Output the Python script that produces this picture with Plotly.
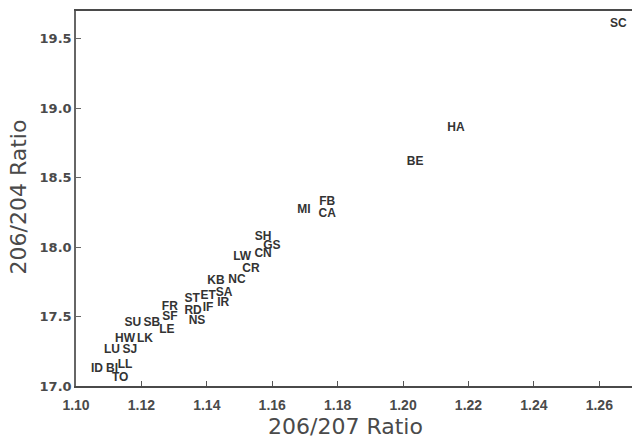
import plotly.graph_objects as go

labels = ["ID", "BI", "LL", "TO", "LU", "SJ", "HW", "LK", "SU", "SB", "LE", "SF", "FR",
          "ST", "RD", "NS", "IF", "ET", "IR", "SA", "KB", "NC", "CR", "LW", "CN", "SH",
          "GS", "MI", "FB", "CA", "BE", "HA", "SC"]
ratio_206_207 = [1.1064, 1.1110, 1.1150, 1.1135, 1.1110, 1.1165, 1.1150, 1.1211, 1.1174,
                 1.1232, 1.1278, 1.1287, 1.1287, 1.1355, 1.1358, 1.1370, 1.1404, 1.1404,
                 1.1450, 1.1453, 1.1428, 1.1492, 1.1535, 1.1508, 1.1572, 1.1572, 1.1599,
                 1.1697, 1.1768, 1.1768, 1.2037, 1.2162, 1.2658]
ratio_206_204 = [17.126, 17.126, 17.154, 17.061, 17.262, 17.262, 17.341, 17.341, 17.456,
                 17.456, 17.405, 17.499, 17.571, 17.628, 17.542, 17.470, 17.563, 17.649,
                 17.599, 17.671, 17.757, 17.764, 17.843, 17.929, 17.950, 18.072, 18.008,
                 18.266, 18.323, 18.237, 18.610, 18.861, 19.607]
x_ticks = [1.10, 1.12, 1.14, 1.16, 1.18, 1.20, 1.22, 1.24, 1.26]
y_ticks = [17.0, 17.5, 18.0, 18.5, 19.0, 19.5]
x_title = "206/207 Ratio"
y_title = "206/204 Ratio"

fig = go.Figure()
fig.add_trace(go.Scatter(
    x=ratio_206_207, y=ratio_206_204, text=labels, mode="text",
    textposition="middle center",
    textfont=dict(family="Liberation Sans", size=12, color="#333333", weight="bold"),
    hoverinfo="skip", showlegend=False, cliponaxis=False,
))

title_font = dict(family="DejaVu Sans", size=22, color="#4a4a4a")

fig.add_annotation(text=x_title, xref="paper", yref="paper", x=0.4856, y=-0.109,
                   xanchor="center", yanchor="middle", showarrow=False, font=title_font)
fig.add_annotation(text=y_title, xref="paper", yref="paper", x=-0.1052, y=0.504,
                   xanchor="center", yanchor="middle", showarrow=False, textangle=-90,
                   font=title_font)

fig.update_layout(
    width=632, height=442,
    margin=dict(l=76, r=0, t=11, b=56),
    paper_bgcolor="white", plot_bgcolor="white",
    hovermode=False,
    xaxis=dict(
        range=[1.10, 1.27], tickvals=x_ticks, ticktext=[f"{v:.2f}" for v in x_ticks],
        showgrid=False, zeroline=False, showline=True, linecolor="#4a4a4a", linewidth=1.6,
        mirror=True, ticks="inside", ticklen=5, tickcolor="#555555", ticklabelstandoff=5,
        tickfont=dict(family="Liberation Sans", size=14, color="#4a4a4a", weight="bold"),
    ),
    yaxis=dict(
        range=[17.0, 19.7], tickvals=y_ticks, ticktext=[f"{v:.1f}" for v in y_ticks],
        showgrid=False, zeroline=False, showline=True, linecolor="#666666", linewidth=1.5,
        ticks="inside", ticklen=5, tickcolor="#666666",
        tickfont=dict(family="DejaVu Sans", size=13, color="#4a4a4a", weight="bold"),
    ),
)

fig.write_html("out.html", config={"displayModeBar": False},
               post_script="document.body.style.margin='0';document.body.style.overflow='hidden';")
